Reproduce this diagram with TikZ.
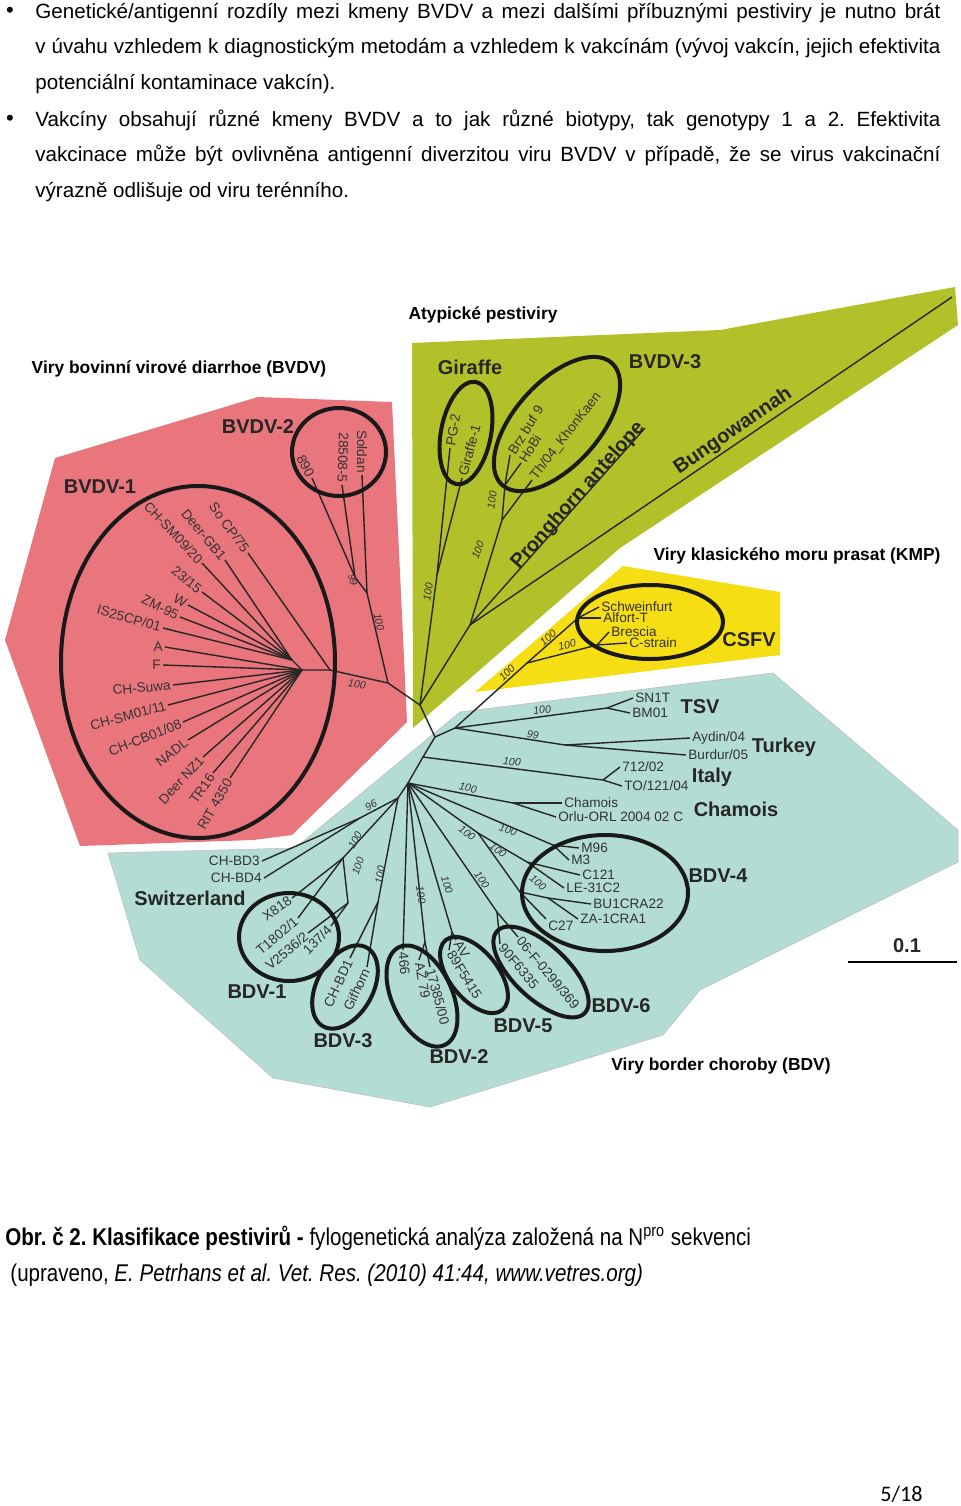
\documentclass[tikz,border=0pt]{standalone}
\usepackage{graphicx}
\usepackage{fontspec}
\setmainfont{Liberation Sans}
\newfontfamily\narrowfont[FakeStretch=0.85]{Liberation Sans}
\newfontfamily\pagefont{Carlito}
\definecolor{bvdvred}{RGB}{232,118,124}
\definecolor{atypgreen}{RGB}{178,193,42}
\definecolor{csfyellow}{RGB}{246,222,20}
\definecolor{bdvblue}{RGB}{178,220,212}
\newcommand{\fullline}[1]{\sbox0{#1}\ifdim\wd0>452.5pt\resizebox{452.5pt}{\height}{\usebox0}\else\makebox[452.5pt][s]{#1}\fi}
\tikzset{
  tline/.style={black!85,line width=0.7pt},
  ring/.style={black!90,line width=2pt},
  grp/.style={font=\fontsize{10}{12}\selectfont\bfseries,text=black!85,inner sep=0pt},
  ttl/.style={font=\fontsize{8.7}{10}\selectfont\bfseries,inner sep=0pt},
  strain/.style={font=\fontsize{6.8}{8}\selectfont,text=black!80,inner sep=1pt},
  boot/.style={font=\fontsize{5.3}{6}\selectfont\itshape,text=black!80,inner sep=0pt},
  body/.style={font=\fontsize{10.3}{12}\selectfont,inner sep=0pt,anchor=base west},
  bullet/.style={font=\fontsize{11}{13}\selectfont,inner sep=0pt},
}

\begin{document}
\frenchspacing
\begin{tikzpicture}[x=0.5pt,y=-0.5pt]
\useasboundingbox (0,0) rectangle (960,1506);

% text above the figure
\node[bullet] (bul1) at (10,12) {•};
\node[body] (l1) at (35,18) {\fullline{Genetické/antigenní rozdíly mezi kmeny BVDV a mezi dalšími příbuznými pestiviry je nutno brát}};
\node[body] (l2) at (35,53) {\fullline{v úvahu vzhledem k diagnostickým metodám a vzhledem k vakcínám (vývoj vakcín, jejich efektivita}};
\node[body] (l3) at (35,89) {potenciální kontaminace vakcín).};
\node[bullet] (bul2) at (10,120) {•};
\node[body] (l4) at (35,126) {\fullline{Vakcíny obsahují různé kmeny BVDV a to jak různé biotypy, tak genotypy 1 a 2. Efektivita}};
\node[body] (l5) at (35,161) {\fullline{vakcinace může být ovlivněna antigenní diverzitou viru BVDV v případě, že se virus vakcinační}};
\node[body] (l6) at (35,197) {výrazně odlišuje od viru terénního.};

% coloured regions
\fill[bvdvred] (258,397) -- (392,402) -- (407,722) -- (292,835) -- (253,840) -- (80,846) -- (5,640) -- (55,458) -- cycle;
\fill[atypgreen] (412,343) -- (720,330) -- (955,287) -- (958,325) -- (620,548) -- (413,728) -- cycle;
\fill[csfyellow] (475,692) -- (623,566) -- (780,592) -- (780,655) -- cycle;
\filldraw[fill=bdvblue,draw=black!25,line width=0.3pt] (108,853) -- (140,960) -- (273,1078) -- (430,1107) -- (663,1035) -- (700,990) -- (958,862) -- (958,830) -- (773,673) -- (460,712) -- (295,848) -- cycle;

% section titles
\node[ttl] (tatyp) at (483,315) {Atypické pestiviry};
\node[ttl] (tbvdv) at (179,369) {Viry bovinní virové diarrhoe (BVDV)};
\node[ttl] (tkmp) at (797,556) {Viry klasického moru prasat (KMP)};
\node[ttl] (tbdv) at (721,1066) {Viry border choroby (BDV)};

% inner nodes of the tree
\coordinate (C) at (420,705);
\coordinate (R1) at (388,683);
\coordinate (H1b) at (330,670);
\coordinate (H1) at (302,670);
\coordinate (H1a) at (292,660);
\coordinate (R2) at (367,593);
\coordinate (R3) at (355,577);
\coordinate (G) at (437,575);
\coordinate (Q) at (470,625);
\coordinate (Na) at (502,520);
\coordinate (Nb) at (505,485);
\coordinate (Pe) at (645,428);
\coordinate (Be) at (952,297);
\coordinate (B0) at (435,737);
\coordinate (B1) at (455,728);
\coordinate (Y1) at (527,663);
\coordinate (Y2) at (578,618);
\coordinate (Y3) at (597,645);
\coordinate (TS) at (607,708);
\coordinate (TU) at (565,745);
\coordinate (B2) at (423,757);
\coordinate (IT) at (603,780);
\coordinate (B3) at (408,783);
\coordinate (CH) at (513,803);
\coordinate (D1) at (553,845);
\coordinate (D2a) at (478,833);
\coordinate (D2) at (527,862);
\coordinate (D4) at (520,892);
\coordinate (D3) at (548,898);
\coordinate (B4) at (398,798);
\coordinate (SW) at (360,818);
\coordinate (S1) at (343,858);
\coordinate (S2) at (348,903);
\coordinate (BD3) at (378,902);
\coordinate (BD2) at (425,942);
\coordinate (BD5) at (452,932);
\coordinate (BD6) at (497,912);

% BVDV leaves
\node[strain,anchor=east,rotate=-54] (socp) at (248,553) {So CP/75};
\node[strain,anchor=east,rotate=-50] (deergb) at (225,560) {Deer-GB1};
\node[strain,anchor=east,rotate=-47] (sm09) at (202,563) {CH-SM09/20};
\node[strain,anchor=east,rotate=-39] (s2315) at (202,592) {23/15};
\node[strain,anchor=east,rotate=-30] (w) at (188,605) {W};
\node[strain,anchor=east,rotate=-27] (zm) at (180,617) {ZM-95};
\node[strain,anchor=east,rotate=-16] (is25) at (163,628) {IS25CP/01};
\node[strain,anchor=east] (a) at (165,647) {A};
\node[strain,anchor=east] (f) at (163,665) {F};
\node[strain,anchor=east,rotate=5] (suwa) at (173,685) {CH-Suwa};
\node[strain,anchor=east,rotate=15] (sm01) at (168,705) {CH-SM01/11};
\node[strain,anchor=east,rotate=22] (cb01) at (183,722) {CH-CB01/08};
\node[strain,anchor=east,rotate=38] (nadl) at (188,740) {NADL};
\node[strain,anchor=east,rotate=47] (nz1) at (203,757) {Deer NZ1};
\node[strain,anchor=east,rotate=55] (tr16) at (213,773) {TR16};
\node[strain,anchor=east,rotate=60] (rit) at (230,778) {RIT 4350};
\node[strain,anchor=east,rotate=-90] (soldan) at (362,475) {Soldan};
\node[strain,anchor=east,rotate=-92] (s28508) at (342,485) {28508-5};
\node[strain,anchor=east,rotate=-62] (s890) at (312,478) {890};

% atypical leaves
\node[strain,anchor=west,rotate=80] (pg2) at (450,448) {PG-2};
\node[strain,anchor=west,rotate=75] (gir1) at (462,478) {Giraffe-1};
\node[strain,anchor=west,rotate=58] (brz) at (510,455) {Brz buf 9};
\node[strain,anchor=west,rotate=58] (hobi) at (521,463) {HoBi};
\node[strain,anchor=west,rotate=52] (th04) at (532,480) {Th/04\_KhonKaen};

% CSFV leaves
\node[strain,anchor=west] (schw) at (599,607) {Schweinfurt};
\node[strain,anchor=west] (alf) at (601,618) {Alfort-T};
\node[strain,anchor=west] (bres) at (609,632) {Brescia};
\node[strain,anchor=west] (cstr) at (627,643) {C-strain};

% BDV leaves
\node[strain,anchor=west] (sn1t) at (633,698) {SN1T};
\node[strain,anchor=west] (bm01) at (630,713) {BM01};
\node[strain,anchor=west] (aydin) at (690,738) {Aydin/04};
\node[strain,anchor=west] (burdur) at (686,755) {Burdur/05};
\node[strain,anchor=west] (s712) at (620,767) {712/02};
\node[strain,anchor=west] (to121) at (622,786) {TO/121/04};
\node[strain,anchor=west] (chamois) at (562,803) {Chamois};
\node[strain,anchor=west] (orlu) at (556,817) {Orlu-ORL 2004 02 C};
\node[strain,anchor=west] (m96) at (579,848) {M96};
\node[strain,anchor=west] (m3) at (569,860) {M3};
\node[strain,anchor=west] (c121) at (580,875) {C121};
\node[strain,anchor=west] (le31) at (564,888) {LE-31C2};
\node[strain,anchor=west] (bu1) at (591,904) {BU1CRA22};
\node[strain,anchor=west] (za1) at (578,919) {ZA-1CRA1};
\node[strain,anchor=north west] (c27) at (546,919) {C27};
\node[strain,anchor=east] (chbd3) at (262,861) {CH-BD3};
\node[strain,anchor=east] (chbd4) at (264,878) {CH-BD4};
\node[strain,anchor=east,rotate=35] (x818) at (292,898) {X818};
\node[strain,anchor=east,rotate=40] (t1802) at (298,918) {T1802/1};
\node[strain,anchor=east,rotate=40] (v2536) at (308,933) {V2536/2};
\node[strain,anchor=east,rotate=45] (s1374) at (331,926) {137/4};
\node[strain,anchor=east,rotate=65] (chbd1) at (350,958) {CH-BD1};
\node[strain,anchor=east,rotate=65] (gifhorn) at (367,967) {Gifhorn};
\node[strain,anchor=west,rotate=-85] (s466) at (403,950) {466};
\node[strain,anchor=west,rotate=-80] (az79) at (419,960) {AZ 79};
\node[strain,anchor=west,rotate=-75] (s17385) at (430,967) {17385/00};
\node[strain,anchor=west,rotate=-58] (av) at (456,940) {AV};
\node[strain,anchor=west,rotate=-58] (f5415) at (449,950) {89F5415};
\node[strain,anchor=west,rotate=-50] (f0299) at (518,937) {06-F-0299/369};
\node[strain,anchor=west,rotate=-50] (f6335) at (500,944) {90F6335};

% branches
\draw[tline] (C) -- (R1) -- (H1b) -- (H1) -- (H1a);
\draw[tline] (R1) -- (R2) -- (R3);
\draw[tline] (R2) -- (soldan.east);
\draw[tline] (R3) -- (s28508.east);
\draw[tline] (R3) -- (s890.east);
\draw[tline] (H1b) -- (socp.east);
\draw[tline] (H1a) -- (deergb.east);
\draw[tline] (H1a) -- (sm09.east);
\draw[tline] (H1a) -- (s2315.east);
\draw[tline] (H1a) -- (w.east);
\draw[tline] (H1a) -- (zm.east);
\draw[tline] (H1a) -- (is25.east);
\draw[tline] (H1) -- (a.east);
\draw[tline] (H1) -- (f.east);
\draw[tline] (H1) -- (suwa.east);
\draw[tline] (H1) -- (sm01.east);
\draw[tline] (H1) -- (cb01.east);
\draw[tline] (H1) -- (nadl.east);
\draw[tline] (H1) -- (nz1.east);
\draw[tline] (H1) -- (tr16.east);
\draw[tline] (H1) -- (rit.east);

\draw[tline] (C) -- (G);
\draw[tline] (G) -- (pg2.west);
\draw[tline] (G) -- (gir1.west);
\draw[tline] (C) -- (Q) -- (Na) -- (Nb);
\draw[tline] (Nb) -- (brz.west);
\draw[tline] (Nb) -- (hobi.west);
\draw[tline] (Na) -- (th04.west);
\draw[tline] (Q) -- (Pe) node[grp,pos=0.64,sloped,anchor=base,inner sep=0pt] (pron) {Pronghorn antelope};
\draw[tline] (Q) -- (Be) node[grp,pos=0.56,sloped,anchor=south,inner sep=1pt] (bungo) {Bungowannah};

\draw[tline] (C) -- (B0) -- (B1) -- (Y1) -- (Y2);
\draw[tline] (Y1) -- (Y3);
\draw[tline] (Y2) -- (schw.west);
\draw[tline] (Y2) -- (alf.west);
\draw[tline] (Y3) -- (bres.west);
\draw[tline] (Y3) -- (cstr.west);

\draw[tline] (B1) -- (TS);
\draw[tline] (TS) -- (sn1t.west);
\draw[tline] (TS) -- (bm01.west);
\draw[tline] (B1) -- (TU);
\draw[tline] (TU) -- (aydin.west);
\draw[tline] (TU) -- (burdur.west);
\draw[tline] (B0) -- (B2) -- (IT);
\draw[tline] (IT) -- (s712.west);
\draw[tline] (IT) -- (to121.west);
\draw[tline] (B2) -- (B3) -- (CH);
\draw[tline] (CH) -- (chamois.west);
\draw[tline] (CH) -- (orlu.west);
\draw[tline] (B3) -- (D1);
\draw[tline] (D1) -- (m96.west);
\draw[tline] (D1) -- (m3.west);
\draw[tline] (B3) -- (D2a) -- (D2);
\draw[tline] (D2) -- (c121.west);
\draw[tline] (D2) -- (le31.west);
\draw[tline] (D2a) -- (D4) -- (D3);
\draw[tline] (D4) -- (c27.north west);
\draw[tline] (D3) -- (bu1.west);
\draw[tline] (D3) -- (za1.west);
\draw[tline] (B3) -- (B4) -- (SW);
\draw[tline] (SW) -- (chbd3.east);
\draw[tline] (SW) -- (chbd4.east);
\draw[tline] (B4) -- (S1) -- (S2);
\draw[tline] (S1) -- (x818.east);
\draw[tline] (S1) -- (t1802.east);
\draw[tline] (S2) -- (v2536.east);
\draw[tline] (S2) -- (s1374.east);
\draw[tline] (B4) -- (BD3);
\draw[tline] (BD3) -- (chbd1.east);
\draw[tline] (BD3) -- (gifhorn.east);
\draw[tline] (B3) -- (s466.west);
\draw[tline] (B3) -- (BD2);
\draw[tline] (BD2) -- (az79.west);
\draw[tline] (BD2) -- (s17385.west);
\draw[tline] (B3) -- (BD5);
\draw[tline] (BD5) -- (av.west);
\draw[tline] (BD5) -- (f5415.west);
\draw[tline] (B3) -- (BD6);
\draw[tline] (BD6) -- (f0299.west);
\draw[tline] (BD6) -- (f6335.west);

% bootstrap values
\node[boot,rotate=-8] (bt1) at (357,684) {100};
\node[boot,rotate=-75] (bt2) at (353,580) {99};
\node[boot,rotate=-78] (bt3) at (379,622) {100};
\node[boot,rotate=80] (bt4) at (428,592) {100};
\node[boot,rotate=68] (bt5) at (478,550) {100};
\node[boot,rotate=82] (bt6) at (492,500) {100};
\node[boot,rotate=45] (bt7) at (507,673) {100};
\node[boot,rotate=40] (bt8) at (548,638) {100};
\node[boot,rotate=12] (bt9) at (567,645) {100};
\node[boot,rotate=5] (bt10) at (542,710) {100};
\node[boot,rotate=-8] (bt11) at (533,735) {99};
\node[boot,rotate=-5] (bt12) at (512,762) {100};
\node[boot,rotate=-12] (bt13) at (468,788) {100};
\node[boot,rotate=-18] (bt14) at (508,830) {100};
\node[boot,rotate=-38] (bt15) at (467,833) {100};
\node[boot,rotate=-38] (bt16) at (498,850) {100};
\node[boot,rotate=-42] (bt17) at (538,883) {100};
\node[boot,rotate=-55] (bt18) at (482,880) {100};
\node[boot,rotate=-72] (bt19) at (447,885) {100};
\node[boot,rotate=-82] (bt20) at (421,895) {100};
\node[boot,rotate=30] (bt21) at (371,805) {96};
\node[boot,rotate=62] (bt22) at (355,840) {100};
\node[boot,rotate=70] (bt23) at (358,866) {100};
\node[boot,rotate=80] (bt24) at (380,875) {100};

% clade rings
\draw[ring] (198,662) ellipse [x radius=68.5pt,y radius=88pt];
\draw[ring] (339,452) ellipse [x radius=23.5pt,y radius=22pt];
\draw[ring,rotate around={-11:(466,433)}] (466,433) ellipse [x radius=12.5pt,y radius=26pt];
\draw[ring,rotate around={48:(557,424)}] (557,424) ellipse [x radius=41pt,y radius=21pt];
\draw[ring] (650,622) ellipse [x radius=36.5pt,y radius=18.5pt];
\draw[ring] (605,893) ellipse [x radius=41.5pt,y radius=29pt];
\draw[ring] (289,937) ellipse [x radius=25pt,y radius=22pt];
\draw[ring,rotate around={-29:(345,987)}] (345,987) ellipse [x radius=14pt,y radius=22.5pt];
\draw[ring,rotate around={25:(422,996)}] (422,996) ellipse [x radius=15pt,y radius=27pt];
\draw[ring,rotate around={39:(474,975)}] (474,975) ellipse [x radius=12pt,y radius=22.5pt];
\draw[ring,rotate around={47:(541,972)}] (541,972) ellipse [x radius=13.5pt,y radius=30pt];

% clade names
\node[grp] (gbvdv1) at (100,487) {BVDV-1};
\node[grp] (gbvdv2) at (258,427) {BVDV-2};
\node[grp] (ggir) at (470,367) {Giraffe};
\node[grp] (gbvdv3) at (665,362) {BVDV-3};
\node[grp] (gcsfv) at (749,640) {CSFV};
\node[grp] (gtsv) at (700,707) {TSV};
\node[grp] (gturkey) at (784,747) {Turkey};
\node[grp] (gitaly) at (712,777) {Italy};
\node[grp] (gchamois) at (736,809) {Chamois};
\node[grp] (gbdv4) at (718,876) {BDV-4};
\node[grp] (gswiss) at (190,898) {Switzerland};
\node[grp] (gbdv1) at (257,992) {BDV-1};
\node[grp] (gbdv3) at (343,1041) {BDV-3};
\node[grp] (gbdv2) at (459,1057) {BDV-2};
\node[grp] (gbdv5) at (523,1026) {BDV-5};
\node[grp] (gbdv6) at (621,1006) {BDV-6};

% scale bar
\coordinate (sbl) at (848,962);
\coordinate (sbr) at (957,962);
\draw[line width=1.4pt] (sbl) -- (sbr);
\node[grp] (sbt) at (907,946) {0.1};

% caption
\node[body,font=\fontsize{12.1}{14}\narrowfont] (cap1) at (5,1245) {\textbf{Obr. č 2. Klasifikace pestivirů -} fylogenetická analýza založená na N\textsuperscript{pro} sekvenci};
\node[body,font=\fontsize{12.1}{14}\narrowfont] (cap2) at (10,1281) {(upraveno, \textit{E. Petrhans et al. Vet. Res. (2010) 41:44, www.vetres.org)}};
\node[body,font=\fontsize{11.1}{13}\pagefont] (pg) at (880,1501) {5/18};
\end{tikzpicture}
\end{document}
